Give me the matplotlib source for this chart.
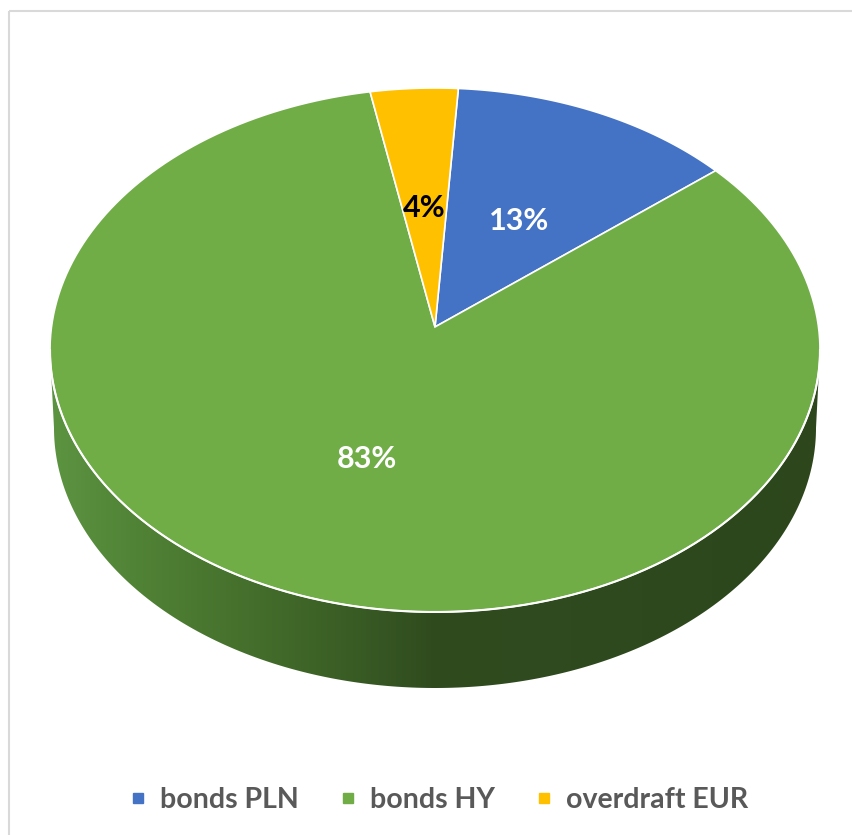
import numpy as np
import matplotlib.pyplot as plt
from matplotlib.patches import Polygon, Rectangle
from matplotlib.lines import Line2D
from matplotlib.colors import to_rgb

# data
labels = ['bonds PLN', 'bonds HY', 'overdraft EUR']
values = [13, 83, 4]
pct_labels = ['13%', '83%', '4%']
colors = ['#4472C4', '#70AD47', '#FFC000']
label_colors = ['white', 'white', 'black']

# geometry of the 3d pie (pixel space)
W, H = 852, 835
cx, cy = 435, 350          # centre of top ellipse
a, b = 385, 262            # semi axes of top ellipse
k = -0.088                 # perspective shift of the centre
cyb, ab, bb = 428, 381, 260  # bottom ellipse
start = 3.8


def proj(theta, r=1.0):
    t = np.radians(theta)
    u = r * np.sin(t)
    v = -r * np.cos(t)
    up = u * np.sqrt(1 - k**2) / (1 + k * v)
    vp = (v + k) / (1 + k * v)
    return cx + a * up, cy + b * vp


plt.rcParams['font.family'] = ['Lato', 'DejaVu Sans']
fig = plt.figure(figsize=(W / 100, H / 100), dpi=100)
ax = fig.add_axes([0, 0, 1, 1])
ax.set_xlim(0, W)
ax.set_ylim(H, 0)
ax.axis('off')

# chart border
ax.add_patch(Rectangle((9, 11), W, H, fill=False, edgecolor='#d9d9d9', lw=1.5))

# side of the cylinder
t = np.linspace(0, np.pi, 300)
top_x = cx + a * np.cos(t)
top_y = cy + b * np.sin(t)
bot_x = cx + ab * np.cos(t)
bot_y = cyb + bb * np.sin(t)
side = Polygon(np.column_stack([np.r_[top_x, bot_x[::-1]], np.r_[top_y, bot_y[::-1]]]),
               closed=True, facecolor='none', edgecolor='none')
ax.add_patch(side)
stops_x = [0, 60, 150, 300, 430, 852]
stops_c = ['#60984a', '#5b9240', '#4f8034', '#3f6628', '#304c1f', '#2d461c']
xs = np.arange(W)
grad = np.zeros((2, W, 3))
for ch in range(3):
    grad[:, :, ch] = np.interp(xs, stops_x, [to_rgb(c)[ch] for c in stops_c])
im = ax.imshow(grad, extent=(0, W, H, 0), aspect='auto', zorder=1)
im.set_clip_path(side)

# top face wedges
cum = start
for val, col, txt, tc in zip(values, colors, pct_labels, label_colors):
    span = val / sum(values) * 360
    th = np.linspace(cum, cum + span, 200)
    px, py = proj(th)
    ox, oy = proj(0, 0)
    poly = Polygon(np.column_stack([np.r_[ox, px], np.r_[oy, py]]), closed=True,
                   facecolor=col, edgecolor='white', lw=1.2, zorder=2)
    ax.add_patch(poly)
    lx, ly = proj(cum + span / 2, 0.5)
    ax.annotate(txt, (lx, ly), xytext=(0, -3.5), textcoords='offset points',
                color=tc, fontsize=22, fontweight='bold',
                ha='center', va='center', zorder=3)
    cum += span

# white rim on front edge
ax.plot(top_x, top_y, color='white', lw=1.5, zorder=2.5)

handles = [Line2D([], [], marker='s', linestyle='none', markersize=7.5, color=c) for c in colors]
leg = ax.legend(handles, labels, loc='center', bbox_to_anchor=(440 / W, 1 - 800 / H),
                bbox_transform=fig.transFigure, ncol=3, frameon=False,
                handlelength=0.45, handletextpad=0.55, columnspacing=1.5,
                prop={'size': 20.5, 'weight': 'bold'})
for txt in leg.get_texts():
    txt.set_color('#595959')

fig.savefig('out.png', dpi=100)
